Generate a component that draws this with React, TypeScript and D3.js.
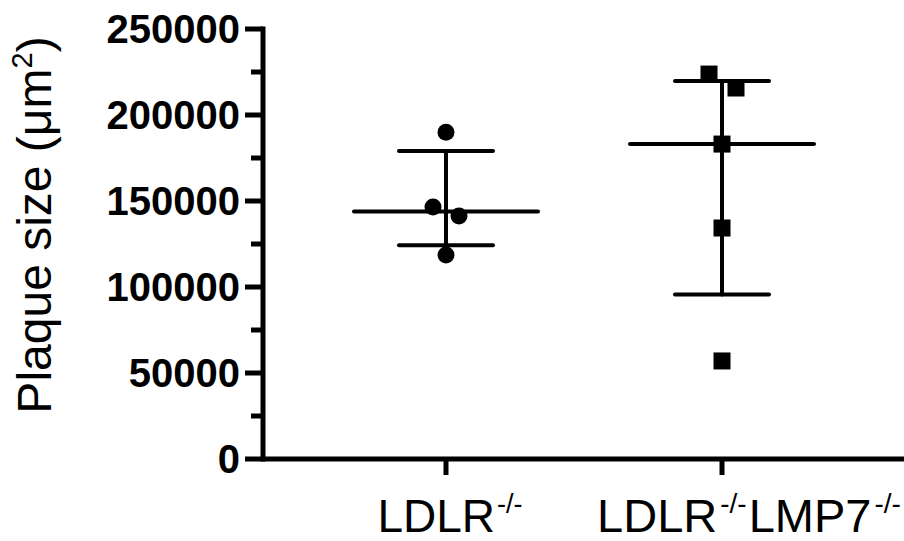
import React from "react";
import * as d3 from "d3";

const W = 904;
const H = 541;

const groups = ["LDLR", "LDLR_LMP7"];
const ldlrValues = [190000, 146500, 141300, 118600];
const lmp7Values = [223800, 215700, 183100, 134300, 57000];
const ldlrJitter = [0, -13, 13, 0];
const lmp7Jitter = [-13, 14, 0, 0, 0];
const medians = [143900, 183100];
const q1 = [124300, 95700];
const q3 = [179100, 219700];
const yMajorTicks = [0, 50000, 100000, 150000, 200000, 250000];
const yMinorTicks = [25000, 75000, 125000, 175000, 225000];

const FONT = "'Liberation Sans', Arial, Helvetica, sans-serif";

export default function App() {
  const x = d3.scalePoint<string>().domain(groups).range([263, 905]).padding(0.663);
  const y = d3.scaleLinear().domain([0, 250000]).range([459, 29]);

  const sq = 17;
  const r = 8.5;

  return (
    <svg width={W} height={H} style={{ position: "absolute", left: 0, top: 0, background: "#fff" }}>
      {/* y axis */}
      <line x1={263} x2={263} y1={y(250000) - 2.5} y2={y(0) + 2.5} stroke="#000" strokeWidth={5} />
      {yMajorTicks.map((t) => (
        <g key={"M" + t}>
          <line x1={245} x2={263} y1={y(t)} y2={y(t)} stroke="#000" strokeWidth={5} />
          <text
            x={240}
            y={y(t)}
            dy="0.36em"
            textAnchor="end"
            fontFamily={FONT}
            fontWeight="bold"
            fontSize={40}
          >
            {t}
          </text>
        </g>
      ))}
      {yMinorTicks.map((t) => (
        <line key={"m" + t} x1={251} x2={263} y1={y(t)} y2={y(t)} stroke="#000" strokeWidth={5} />
      ))}
      {/* x axis */}
      <line x1={263} x2={904} y1={y(0)} y2={y(0)} stroke="#000" strokeWidth={5} />
      {groups.map((g) => (
        <line key={"xt" + g} x1={x(g)} x2={x(g)} y1={y(0)} y2={y(0) + 16} stroke="#000" strokeWidth={5} />
      ))}
      {/* x labels */}
      <text x={x(groups[0])! + 4} y={532} textAnchor="middle" fontFamily={FONT} fontSize={46}>
        LDLR
        <tspan fontSize={27} dx={2} dy={-19}>-/-</tspan>
      </text>
      <text x={x(groups[1])! + 27} y={532} textAnchor="middle" fontFamily={FONT} fontSize={47}>
        LDLR
        <tspan fontSize={28} dx={3} dy={-19}>-/-</tspan>
        <tspan dx={2} dy={19}>LMP7</tspan>
        <tspan fontSize={28} dx={3} dy={-19}>-/-</tspan>
      </text>
      {/* y label */}
      <text
        transform={`translate(51, 225) rotate(-90)`}
        textAnchor="middle"
        fontFamily={FONT}
        fontSize={48}
      >
        Plaque size (μm
        <tspan fontSize={29} dy={-19}>2</tspan>
        <tspan dy={19}>)</tspan>
      </text>
      {/* error bars */}
      {groups.map((g, i) => {
        const cx = x(g)!;
        return (
          <g key={"eb" + g} stroke="#000" strokeWidth={4} strokeLinecap="round">
            <line x1={cx} x2={cx} y1={y(q1[i])} y2={y(q3[i])} />
            <line x1={cx - 47} x2={cx + 47} y1={y(q1[i])} y2={y(q1[i])} />
            <line x1={cx - 47} x2={cx + 47} y1={y(q3[i])} y2={y(q3[i])} />
            <line x1={cx - 92} x2={cx + 92} y1={y(medians[i])} y2={y(medians[i])} />
          </g>
        );
      })}
      {/* points */}
      {ldlrValues.map((v, i) => (
        <circle key={"c" + i} cx={x(groups[0])! + ldlrJitter[i]} cy={y(v)} r={r} fill="#000" />
      ))}
      {lmp7Values.map((v, i) => (
        <rect
          key={"s" + i}
          x={x(groups[1])! + lmp7Jitter[i] - sq / 2}
          y={y(v) - sq / 2}
          width={sq}
          height={sq}
          fill="#000"
        />
      ))}
    </svg>
  );
}
